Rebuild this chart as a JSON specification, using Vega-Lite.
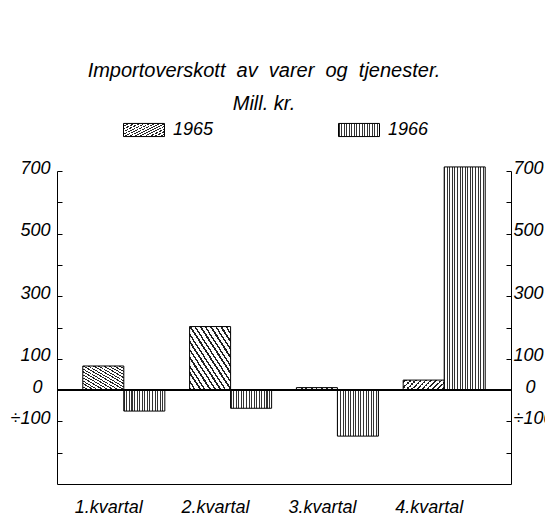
{
  "$schema": "https://vega.github.io/schema/vega-lite/v6.json",
  "autosize": {"type": "none"},
  "padding": {"left": 57, "top": 171, "right": 34, "bottom": 37},
  "width": 454,
  "height": 313,
  "background": "white",
  "title": {
    "text": ["Importoverskott\u00a0 av\u00a0 varer\u00a0 og\u00a0 tjenester.", "Mill. kr."],
    "font": "Liberation Sans",
    "fontSize": 20,
    "fontStyle": "italic",
    "fontWeight": "normal",
    "color": "black",
    "lineHeight": 33,
    "anchor": "middle",
    "frame": "group",
    "dx": -20,
    "offset": -5
  },
  "data": {
    "values": [
      {"kvartal": "1.kvartal", "year": "1965", "value": 77},
      {"kvartal": "1.kvartal", "year": "1966", "value": -67},
      {"kvartal": "2.kvartal", "year": "1965", "value": 203},
      {"kvartal": "2.kvartal", "year": "1966", "value": -58},
      {"kvartal": "3.kvartal", "year": "1965", "value": 8},
      {"kvartal": "3.kvartal", "year": "1966", "value": -147},
      {"kvartal": "4.kvartal", "year": "1965", "value": 32},
      {"kvartal": "4.kvartal", "year": "1966", "value": 713}
    ]
  },
  "layer": [
    {
      "mark": {"type": "bar", "stroke": "black", "strokeWidth": 1},
      "encoding": {
        "x": {
          "field": "kvartal",
          "type": "nominal",
          "scale": {"paddingInner": 0.232, "paddingOuter": 0.2415},
          "axis": {
            "orient": "bottom",
            "title": null,
            "ticks": false,
            "domainColor": "black",
            "domainWidth": 1,
            "labelAngle": 0,
            "labelFont": "Liberation Sans",
            "labelFontSize": 18,
            "labelFontStyle": "italic",
            "labelColor": "black",
            "labelPadding": 14,
            "labelOffset": -15
          }
        },
        "xOffset": {"field": "year", "type": "nominal", "scale": {"paddingInner": 0, "paddingOuter": 0}},
        "y": {
          "field": "value",
          "type": "quantitative",
          "scale": {"domain": [-300, 700], "nice": false, "zero": false},
          "axis": {
            "orient": "left",
            "title": null,
            "grid": false,
            "values": [-200, -100, 0, 100, 200, 300, 400, 500, 600, 700],
            "tickSize": -5,
            "tickColor": "black",
            "domainColor": "black",
            "domainWidth": 1,
            "labelPadding": {"condition": {"test": "datum.value === 0", "value": 20}, "value": 12},
            "labelOffset": -3,
            "labelFont": "Liberation Sans",
            "labelFontSize": 18,
            "labelFontStyle": "italic",
            "labelColor": "black",
            "labelExpr": "indexof([700,500,300,100,0], datum.value) >= 0 ? format(datum.value, 'd') : (datum.value == -100 ? '÷100' : '')"
          }
        },
        "fill": {
          "field": "year",
          "type": "nominal",
          "scale": {
            "domain": ["1965", "1966"],
            "range": [
              {"expr": "{gradient: 'linear', x1: 0, y1: 1, x2: 1, y2: 0, stops: [{offset: 0, color: '#222'}, {offset: 0.025, color: '#222'}, {offset: 0.025, color: '#fff'}, {offset: 0.06, color: '#fff'}, {offset: 0.06, color: '#222'}, {offset: 0.08, color: '#222'}, {offset: 0.08, color: '#fff'}, {offset: 0.125, color: '#fff'}, {offset: 0.125, color: '#222'}, {offset: 0.15, color: '#222'}, {offset: 0.15, color: '#fff'}, {offset: 0.18, color: '#fff'}, {offset: 0.18, color: '#222'}, {offset: 0.2, color: '#222'}, {offset: 0.2, color: '#fff'}, {offset: 0.245, color: '#fff'}, {offset: 0.245, color: '#222'}, {offset: 0.27, color: '#222'}, {offset: 0.27, color: '#fff'}, {offset: 0.31, color: '#fff'}, {offset: 0.31, color: '#222'}, {offset: 0.33, color: '#222'}, {offset: 0.33, color: '#fff'}, {offset: 0.37, color: '#fff'}, {offset: 0.37, color: '#222'}, {offset: 0.395, color: '#222'}, {offset: 0.395, color: '#fff'}, {offset: 0.43, color: '#fff'}, {offset: 0.43, color: '#222'}, {offset: 0.45, color: '#222'}, {offset: 0.45, color: '#fff'}, {offset: 0.495, color: '#fff'}, {offset: 0.495, color: '#222'}, {offset: 0.52, color: '#222'}, {offset: 0.52, color: '#fff'}, {offset: 0.555, color: '#fff'}, {offset: 0.555, color: '#222'}, {offset: 0.575, color: '#222'}, {offset: 0.575, color: '#fff'}, {offset: 0.62, color: '#fff'}, {offset: 0.62, color: '#222'}, {offset: 0.645, color: '#222'}, {offset: 0.645, color: '#fff'}, {offset: 0.68, color: '#fff'}, {offset: 0.68, color: '#222'}, {offset: 0.7, color: '#222'}, {offset: 0.7, color: '#fff'}, {offset: 0.745, color: '#fff'}, {offset: 0.745, color: '#222'}, {offset: 0.77, color: '#222'}, {offset: 0.77, color: '#fff'}, {offset: 0.81, color: '#fff'}, {offset: 0.81, color: '#222'}, {offset: 0.83, color: '#222'}, {offset: 0.83, color: '#fff'}, {offset: 0.87, color: '#fff'}, {offset: 0.87, color: '#222'}, {offset: 0.895, color: '#222'}, {offset: 0.895, color: '#fff'}, {offset: 0.935, color: '#fff'}, {offset: 0.935, color: '#222'}, {offset: 0.955, color: '#222'}, {offset: 0.955, color: '#fff'}, {offset: 1, color: '#fff'}]}"},
              {"expr": "{gradient: 'linear', x1: 0, y1: 0, x2: 1, y2: 0, stops: [{offset: 0, color: '#333'}, {offset: 0.025, color: '#333'}, {offset: 0.025, color: '#fff'}, {offset: 0.0625, color: '#fff'}, {offset: 0.0625, color: '#333'}, {offset: 0.0875, color: '#333'}, {offset: 0.0875, color: '#fff'}, {offset: 0.125, color: '#fff'}, {offset: 0.125, color: '#333'}, {offset: 0.15, color: '#333'}, {offset: 0.15, color: '#fff'}, {offset: 0.1875, color: '#fff'}, {offset: 0.1875, color: '#333'}, {offset: 0.2125, color: '#333'}, {offset: 0.2125, color: '#fff'}, {offset: 0.25, color: '#fff'}, {offset: 0.25, color: '#333'}, {offset: 0.275, color: '#333'}, {offset: 0.275, color: '#fff'}, {offset: 0.3125, color: '#fff'}, {offset: 0.3125, color: '#333'}, {offset: 0.3375, color: '#333'}, {offset: 0.3375, color: '#fff'}, {offset: 0.375, color: '#fff'}, {offset: 0.375, color: '#333'}, {offset: 0.4, color: '#333'}, {offset: 0.4, color: '#fff'}, {offset: 0.4375, color: '#fff'}, {offset: 0.4375, color: '#333'}, {offset: 0.4625, color: '#333'}, {offset: 0.4625, color: '#fff'}, {offset: 0.5, color: '#fff'}, {offset: 0.5, color: '#333'}, {offset: 0.525, color: '#333'}, {offset: 0.525, color: '#fff'}, {offset: 0.5625, color: '#fff'}, {offset: 0.5625, color: '#333'}, {offset: 0.5875, color: '#333'}, {offset: 0.5875, color: '#fff'}, {offset: 0.625, color: '#fff'}, {offset: 0.625, color: '#333'}, {offset: 0.65, color: '#333'}, {offset: 0.65, color: '#fff'}, {offset: 0.6875, color: '#fff'}, {offset: 0.6875, color: '#333'}, {offset: 0.7125, color: '#333'}, {offset: 0.7125, color: '#fff'}, {offset: 0.75, color: '#fff'}, {offset: 0.75, color: '#333'}, {offset: 0.775, color: '#333'}, {offset: 0.775, color: '#fff'}, {offset: 0.8125, color: '#fff'}, {offset: 0.8125, color: '#333'}, {offset: 0.8375, color: '#333'}, {offset: 0.8375, color: '#fff'}, {offset: 0.875, color: '#fff'}, {offset: 0.875, color: '#333'}, {offset: 0.9, color: '#333'}, {offset: 0.9, color: '#fff'}, {offset: 0.9375, color: '#fff'}, {offset: 0.9375, color: '#333'}, {offset: 0.9625, color: '#333'}, {offset: 0.9625, color: '#fff'}, {offset: 1, color: '#fff'}]}"}
            ]
          },
          "legend": {
            "orient": "none",
            "legendX": 66,
            "legendY": -62,
            "direction": "horizontal",
            "title": null,
            "padding": 0,
            "columnPadding": 122,
            "symbolType": "M-1,-0.32H1V0.32H-1Z",
            "symbolSize": 1681,
            "symbolStrokeColor": "black",
            "symbolStrokeWidth": 1,
            "symbolOpacity": 1,
            "labelFont": "Liberation Sans",
            "labelFontSize": 18,
            "labelFontStyle": "italic",
            "labelColor": "black",
            "labelOffset": 8
          }
        }
      }
    },
    {
      "mark": {"type": "rule", "color": "black", "strokeWidth": 1},
      "encoding": {
        "y": {
          "datum": 0,
          "type": "quantitative",
          "axis": {
            "orient": "right",
            "title": null,
            "grid": false,
            "values": [-200, -100, 0, 100, 200, 300, 400, 500, 600, 700],
            "tickSize": -5,
            "tickColor": "black",
            "domainColor": "black",
            "domainWidth": 1,
            "labelPadding": {"condition": {"test": "datum.value === 0", "value": 19}, "value": 7},
            "labelOffset": -3,
            "labelFont": "Liberation Sans",
            "labelFontSize": 18,
            "labelFontStyle": "italic",
            "labelColor": "black",
            "labelExpr": "indexof([700,500,300,100,0], datum.value) >= 0 ? format(datum.value, 'd') : (datum.value == -100 ? '÷100' : '')"
          }
        }
      }
    }
  ],
  "resolve": {"axis": {"y": "independent"}},
  "config": {"view": {"stroke": null}}
}
